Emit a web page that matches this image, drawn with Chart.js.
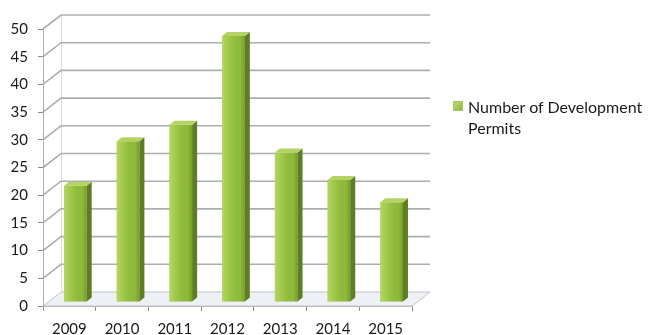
<!DOCTYPE html>
<html>
<head>
<meta charset="utf-8">
<script src="https://cdn.jsdelivr.net/npm/chart.js@4"></script>
<style>
  html, body { margin: 0; padding: 0; background: #fff; }
  #wrap { position: relative; width: 649px; height: 335px; }
  #legend { position: absolute; left: 453px; top: 96px; font: 16px Lato, "Open Sans", sans-serif; color: #1a1a1a; line-height: 21px; }
  #legend .box { position: absolute; left: 0; top: 5px; width: 8px; height: 8px; background: linear-gradient(135deg, #c2dc7e, #8cb83a); border: 1px solid #a5c55c; }
  #legend .txt { margin-left: 15px; }
</style>
</head>
<body>
<div id="wrap">
  <canvas id="chart" width="649" height="335"></canvas>
  <div id="legend"><span class="box"></span><div class="txt">Number of Development<br>Permits</div></div>
</div>
<script>
// ── DADOS ────────────────────────────────────────────────────────────────
const YEARS = ['2009','2010','2011','2012','2013','2014','2015'];
const PERMITS = [21, 29, 32, 48, 27, 22, 18];
const SERIES_LABEL = 'Number of Development Permits';

// profundidade do efeito 3D
const DEPTH_X = 18, DEPTH_Y = 14;
const BAR_SHIFT_X = 6, BAR_SHIFT_Y = -4;

// paredes e grade de fundo desenhadas a partir das escalas
const wallsPlugin = {
  id: 'walls',
  beforeDatasetsDraw(chart) {
    const { ctx, chartArea: a, scales: { y } } = chart;
    ctx.save();
    // chão
    ctx.beginPath();
    ctx.moveTo(a.left, a.bottom);
    ctx.lineTo(a.right, a.bottom);
    ctx.lineTo(a.right + DEPTH_X, a.bottom - DEPTH_Y);
    ctx.lineTo(a.left + DEPTH_X, a.bottom - DEPTH_Y);
    ctx.closePath();
    ctx.fillStyle = '#edf0f4';
    ctx.fill();
    ctx.strokeStyle = '#bfc3c8';
    ctx.lineWidth = 1;
    ctx.stroke();
    // parede esquerda (aresta de trás)
    ctx.beginPath();
    ctx.moveTo(a.left + DEPTH_X + 0.5, a.top - DEPTH_Y);
    ctx.lineTo(a.left + DEPTH_X + 0.5, a.bottom - DEPTH_Y);
    ctx.strokeStyle = '#dcdfe2';
    ctx.stroke();
    // linhas de grade
    y.ticks.forEach(t => {
      const py = y.getPixelForValue(t.value);
      if (t.value === 0) return;
      ctx.beginPath();
      ctx.moveTo(a.left, py);
      ctx.lineTo(a.left + DEPTH_X, py - DEPTH_Y);
      ctx.lineTo(a.right + DEPTH_X, py - DEPTH_Y);
      ctx.strokeStyle = '#acaeb1';
      ctx.lineWidth = 1.6;
      ctx.stroke();
    });
    ctx.restore();
    ctx.save();
    ctx.translate(BAR_SHIFT_X, BAR_SHIFT_Y);
  },
  afterDatasetsDraw(chart) {
    const { ctx } = chart;
    const meta = chart.getDatasetMeta(0);
    meta.data.forEach(bar => {
      const l = bar.x - bar.width / 2, r = bar.x + bar.width / 2;
      const top = bar.y, base = bar.base;
      // brilho da face frontal
      const g = ctx.createLinearGradient(l, 0, r, 0);
      g.addColorStop(0, 'rgba(205,228,125,0.6)');
      g.addColorStop(0.35, 'rgba(195,222,115,0.2)');
      g.addColorStop(0.8, 'rgba(60,90,10,0.05)');
      g.addColorStop(1, 'rgba(60,90,10,0.35)');
      ctx.fillStyle = g;
      ctx.fillRect(l, top, r - l, base - top);
      // lateral
      ctx.beginPath();
      ctx.moveTo(r, top);
      ctx.lineTo(r + 5, top - 4);
      ctx.lineTo(r + 5, base - 4);
      ctx.lineTo(r, base);
      ctx.closePath();
      ctx.fillStyle = '#5f7d24';
      ctx.fill();
      // topo
      ctx.beginPath();
      ctx.moveTo(l, top);
      ctx.lineTo(l + 5, top - 4);
      ctx.lineTo(r + 5, top - 4);
      ctx.lineTo(r, top);
      ctx.closePath();
      ctx.fillStyle = '#b5d364';
      ctx.fill();
    });
    ctx.restore();
  }
};

new Chart(document.getElementById('chart'), {
  type: 'bar',
  data: {
    labels: YEARS,
    datasets: [{
      label: SERIES_LABEL,
      data: PERMITS,
      backgroundColor: '#93c03d',
      borderWidth: 0,
      categoryPercentage: 1,
      barPercentage: 0.43
    }]
  },
  options: {
    responsive: false,
    animation: false,
    layout: { padding: { top: 29, right: 237, left: 0, bottom: 0 } },
    plugins: { legend: { display: false }, tooltip: { enabled: false } },
    scales: {
      x: {
        afterFit: s => { s.height = 29; },
        grid: { offset: true, drawOnChartArea: false, tickLength: 5, color: '#8a8a8a' },
        border: { color: '#b0b0b0' },
        ticks: { color: '#1a1a1a', font: { family: 'Lato', size: 15 }, padding: 9 }
      },
      y: {
        min: 0, max: 50,
        afterFit: s => { s.width = 43; },
        grid: { drawOnChartArea: false, tickLength: 5, color: '#8a8a8a' },
        border: { color: '#b0b0b0' },
        ticks: { stepSize: 5, color: '#1a1a1a', font: { family: 'Lato', size: 15 }, padding: 10 }
      }
    }
  },
  plugins: [wallsPlugin]
});
</script>
</body>
</html>
